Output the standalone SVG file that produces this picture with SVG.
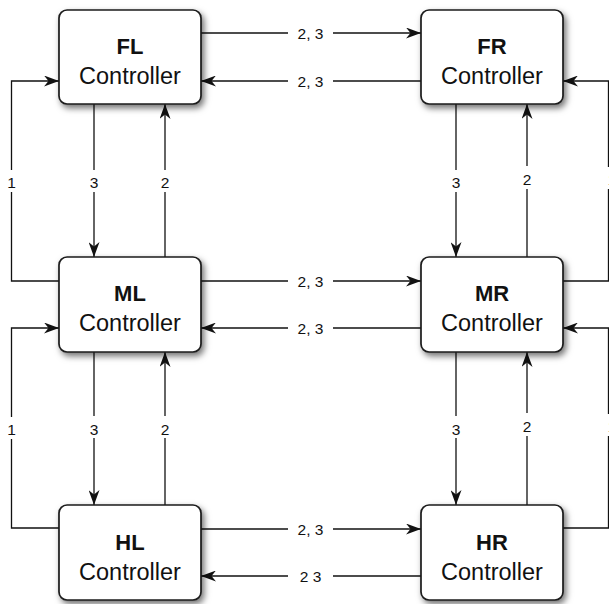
<svg xmlns="http://www.w3.org/2000/svg" width="609" height="604" viewBox="0 0 609 604">
  <defs>
    <filter id="shadow" x="-20%" y="-20%" width="150%" height="150%">
      <feDropShadow dx="2.5" dy="3.5" stdDeviation="3" flood-color="#000" flood-opacity="0.55"/>
    </filter>
    <marker id="arrow" viewBox="0 0 15 11" refX="15" refY="5.5" markerWidth="15" markerHeight="11" markerUnits="userSpaceOnUse" orient="auto">
      <path d="M0,0 L15,5.5 L0,11 L4.5,5.5 Z" fill="#111"/>
    </marker>
  </defs>
  <style>
    .box { fill: #fff; stroke: #1a1a1a; stroke-width: 1.7; filter: url(#shadow); }
    .name { font-family: "Liberation Sans", Arial, sans-serif; font-weight: bold; font-size: 22px; fill: #111; text-anchor: middle; }
    .sub { font-family: "Liberation Sans", Arial, sans-serif; font-size: 23.5px; fill: #111; text-anchor: middle; }
    .lbl { font-family: "Liberation Sans", Arial, sans-serif; font-size: 15.5px; fill: #111; text-anchor: middle; }
    .ln { fill: none; stroke: #111; stroke-width: 1.3; }
    .arr { fill: none; stroke: #111; stroke-width: 1.3; marker-end: url(#arrow); }
  </style>
  <rect width="609" height="604" fill="#fff"/>

  <!-- connectors -->
  <g id="connectors">
    <!-- horizontal links, row 1 -->
    <path class="ln" d="M201,33 H288"/><path class="arr" d="M333,33 H421"/>
    <path class="ln" d="M421,81 H333"/><path class="arr" d="M288,81 H201"/>
    <text class="lbl" x="310.5" y="38.5">2, 3</text>
    <text class="lbl" x="310.5" y="86.5">2, 3</text>
    <!-- horizontal links, row 2 -->
    <path class="ln" d="M201,281 H288"/><path class="arr" d="M333,281 H421"/>
    <path class="ln" d="M421,328 H333"/><path class="arr" d="M288,328 H201"/>
    <text class="lbl" x="310.5" y="286.5">2, 3</text>
    <text class="lbl" x="310.5" y="333.5">2, 3</text>
    <!-- horizontal links, row 3 -->
    <path class="ln" d="M201,529 H288"/><path class="arr" d="M333,529 H421"/>
    <path class="ln" d="M421,576 H333"/><path class="arr" d="M288,576 H201"/>
    <text class="lbl" x="310.5" y="534.5">2, 3</text>
    <text class="lbl" x="310.5" y="581.5">2 3</text>

    <!-- vertical links, left column -->
    <path class="ln" d="M94,104 V170"/><path class="arr" d="M94,192 V257"/>
    <path class="ln" d="M165,257 V192"/><path class="arr" d="M165,170 V104"/>
    <text class="lbl" x="94" y="187.5">3</text>
    <text class="lbl" x="165" y="187.5">2</text>
    <path class="ln" d="M94,352 V416"/><path class="arr" d="M94,438 V505"/>
    <path class="ln" d="M165,505 V438"/><path class="arr" d="M165,416 V352"/>
    <text class="lbl" x="94" y="434.5">3</text>
    <text class="lbl" x="165" y="434.5">2</text>

    <!-- vertical links, right column -->
    <path class="ln" d="M456,104 V170"/><path class="arr" d="M456,192 V257"/>
    <path class="ln" d="M527,257 V189"/><path class="arr" d="M527,166 V104"/>
    <text class="lbl" x="456" y="187.5">3</text>
    <text class="lbl" x="527" y="184.5">2</text>
    <path class="ln" d="M456,352 V416"/><path class="arr" d="M456,438 V505"/>
    <path class="ln" d="M527,505 V436"/><path class="arr" d="M527,413 V352"/>
    <text class="lbl" x="456" y="434.5">3</text>
    <text class="lbl" x="527" y="431.5">2</text>

    <!-- outer feedback loops, left -->
    <path class="ln" d="M59,281 H11.5 V192"/><path class="arr" d="M11.5,170 V81 H59"/>
    <text class="lbl" x="11.5" y="187.5">1</text>
    <path class="ln" d="M59,528 H11.5 V439"/><path class="arr" d="M11.5,417 V328 H59"/>
    <text class="lbl" x="11.5" y="434.5">1</text>

    <!-- outer feedback loops, right edge (runs past the border) -->
    <path class="ln" d="M563,281 H608.5 V189"/><path class="arr" d="M608.5,167 V81 H563"/>
    <text class="lbl" x="612" y="184.5">1</text>
    <path class="ln" d="M563,528 H608.5 V436"/><path class="arr" d="M608.5,414 V328 H563"/>
    <text class="lbl" x="612" y="431.5">1</text>
  </g>

  <!-- controller nodes -->
  <g id="fl"><rect class="box" x="59" y="10" width="142" height="94" rx="8"/>
    <text class="name" x="130" y="53.5">FL</text><text class="sub" x="130" y="83.5">Controller</text></g>
  <g id="fr"><rect class="box" x="421" y="10" width="142" height="94" rx="8"/>
    <text class="name" x="492" y="53.5">FR</text><text class="sub" x="492" y="83.5">Controller</text></g>
  <g id="ml"><rect class="box" x="59" y="257" width="142" height="95" rx="8"/>
    <text class="name" x="130" y="300.5">ML</text><text class="sub" x="130" y="330.5">Controller</text></g>
  <g id="mr"><rect class="box" x="421" y="257" width="142" height="95" rx="8"/>
    <text class="name" x="492" y="300.5">MR</text><text class="sub" x="492" y="330.5">Controller</text></g>
  <g id="hl"><rect class="box" x="59" y="505" width="142" height="95" rx="8"/>
    <text class="name" x="130" y="549.5">HL</text><text class="sub" x="130" y="579.5">Controller</text></g>
  <g id="hr"><rect class="box" x="421" y="505" width="142" height="95" rx="8"/>
    <text class="name" x="492" y="549.5">HR</text><text class="sub" x="492" y="579.5">Controller</text></g>
</svg>
